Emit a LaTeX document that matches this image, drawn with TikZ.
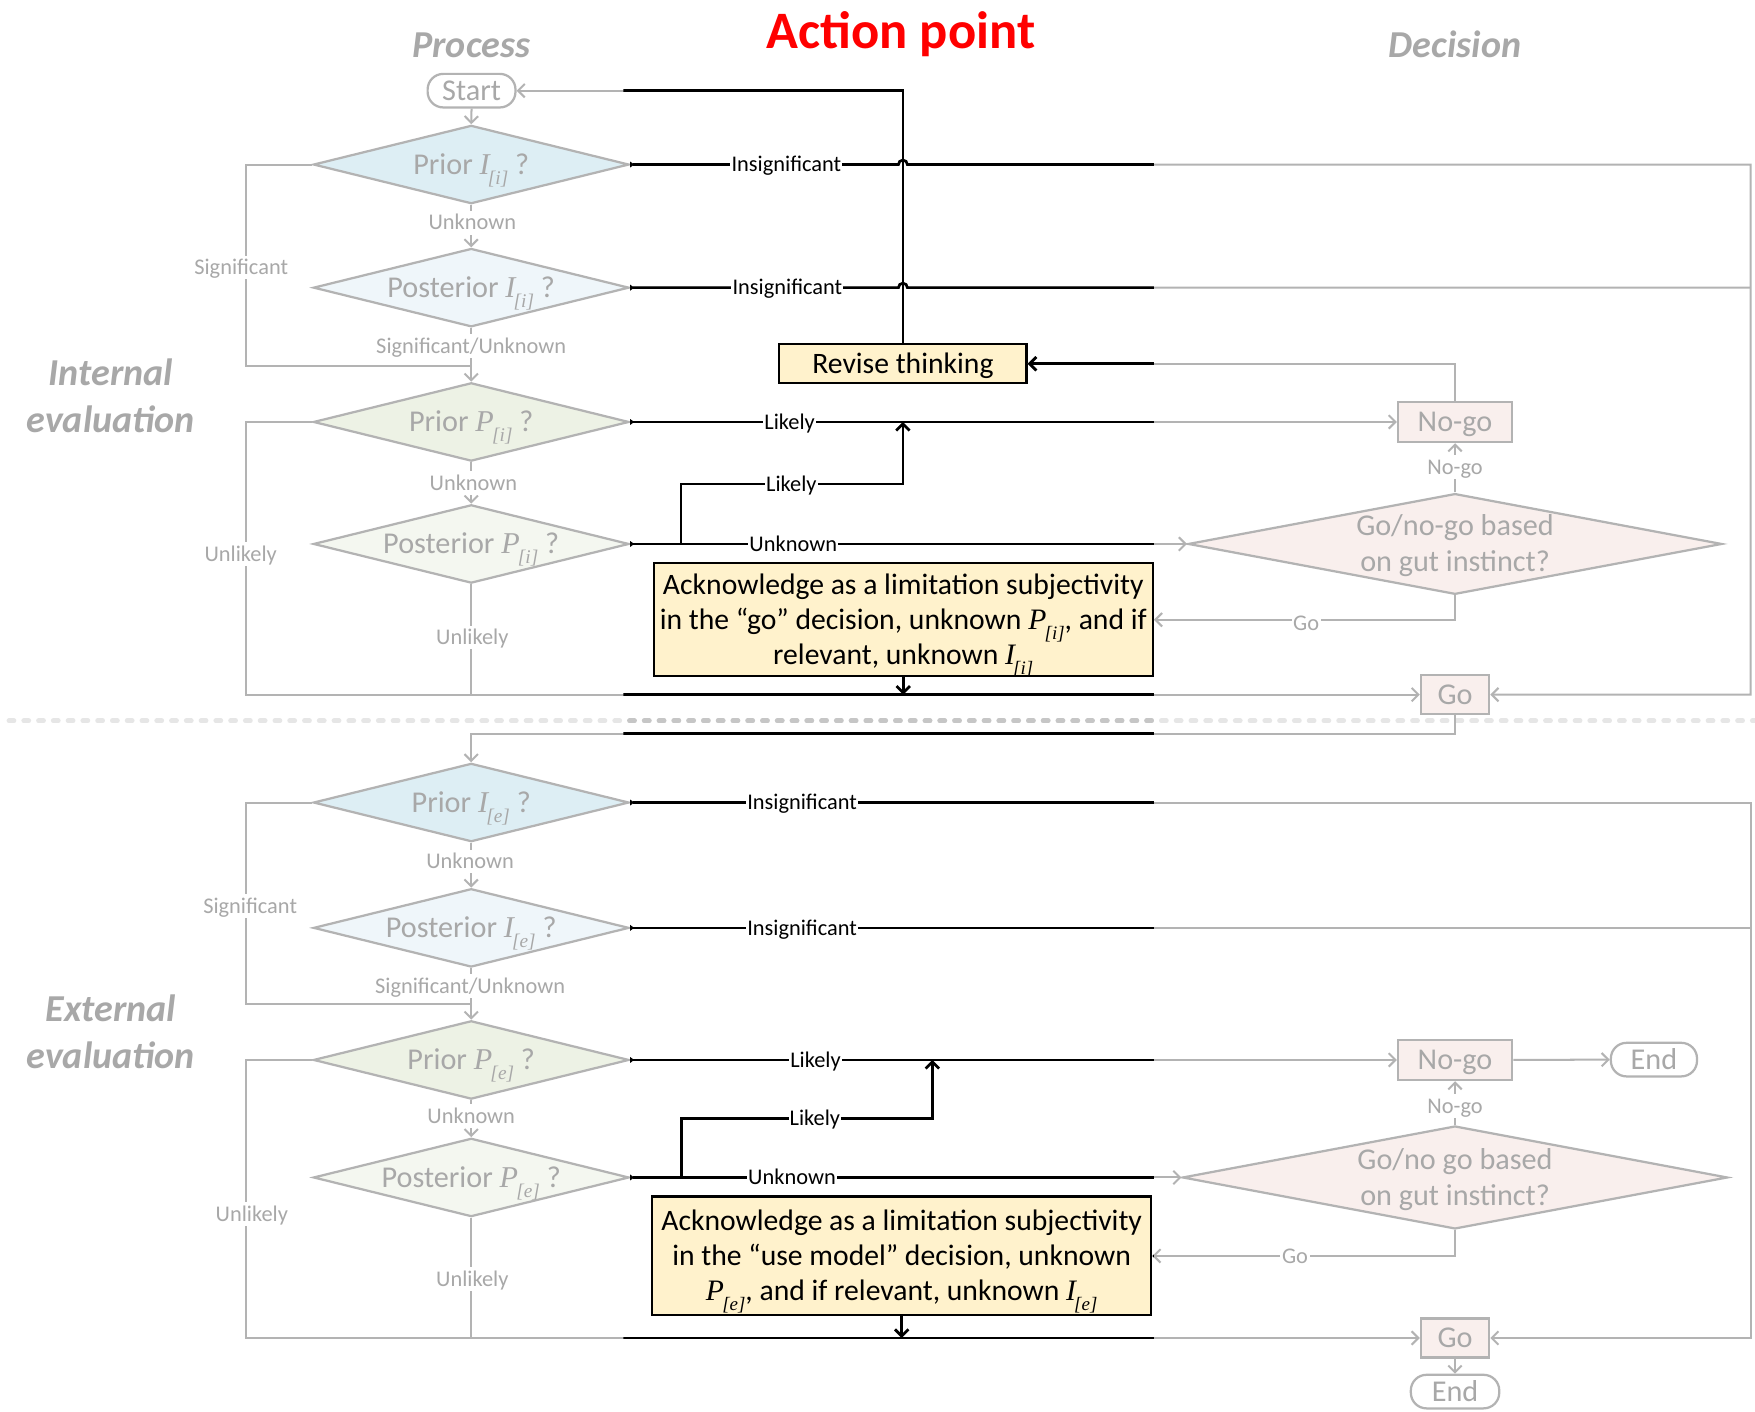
\documentclass[tikz,border=0pt]{standalone}
\usepackage{fontspec}
\setmainfont{Carlito}
\newfontfamily\varserif{Liberation Serif}
\usetikzlibrary{shapes.geometric,arrows.meta,calc}

\definecolor{linegray}{HTML}{B3B3B3}
\definecolor{textgray}{HTML}{A8A8A8}
\definecolor{impA}{HTML}{DDEEF4}
\definecolor{impB}{HTML}{EFF6FA}
\definecolor{probA}{HTML}{EDF2E5}
\definecolor{probB}{HTML}{F4F7F0}
\definecolor{verdict}{HTML}{F9EFED}
\definecolor{actionfill}{HTML}{FFF2CC}
\definecolor{sepsoft}{HTML}{E6E6E6}
\definecolor{sepmid}{HTML}{C6C6C6}

% italic quantity with a bracketed subscript, e.g. I_[i]
\newcommand\qvar[2]{{\varserif\itshape #1}\kern-0.06em\raisebox{-0.34em}{\scalebox{0.64}{\varserif\itshape [#2]}}}

\tikzset{
  query/.style={diamond, draw=linegray, line width=2pt, inner sep=0pt,
    minimum width=282pt, minimum height=70pt},
  qtext/.style={text=textgray, font=\fontsize{27}{32.5}\selectfont, align=center,
    inner sep=0pt, text height=18.9pt, text depth=1.5pt},
  qtexttwo/.style={qtext, text height=51.4pt},
  verdictbox/.style={draw=linegray, line width=2pt, fill=verdict, inner sep=0pt,
    text=textgray, font=\fontsize{27}{33}\selectfont, text height=18.9pt, text depth=1.5pt},
  terminal/.style={draw=linegray, line width=2pt, fill=white, rounded corners=14pt,
    inner sep=0pt, text=textgray, font=\fontsize{27}{33}\selectfont,
    text height=18.9pt, text depth=1.5pt},
  actionbox/.style={draw=black, line width=2pt, fill=actionfill, inner sep=0pt,
    align=center, font=\fontsize{26.5}{31.5}\selectfont, text height=18.5pt, text depth=1.5pt},
  actionboxthree/.style={actionbox, text height=81.5pt},
  flowlink/.style={draw=linegray, line width=1.8pt},
  tohead/.style={-{Straight Barb[length=6pt,width=12pt]}},
  fromtail/.style={{Triangle[reversed,length=3.5pt,width=5pt]}-},
  bothends/.style={{Triangle[reversed,length=3.5pt,width=5pt]}-{Straight Barb[length=6pt,width=12pt]}},
  actlbl/.style={fill=white, inner xsep=1pt, inner ysep=3pt, text=black,
    font=\fontsize{20}{24}\selectfont, text height=14pt, text depth=1.1pt},
  flowlbl/.style={fill=white, inner xsep=1.5pt, inner ysep=3pt, text=textgray,
    font=\fontsize{20}{24}\selectfont, text height=14pt, text depth=1.1pt},
  heading/.style={text=textgray, font=\fontsize{34}{42}\selectfont\bfseries\itshape,
    align=center, anchor=base},
  sepline/.style={line width=4.2pt, line cap=round, dash pattern=on 4.5pt off 8.7pt},
}

% every connector of the chart; drawn once in grey and once in black
% inside the action-point column
\newcommand\flowlinks{%
  % internal evaluation
  \draw[flowlink,tohead] (start.south) -- (ii1.north);
  \draw[flowlink,tohead] (ii1.south) -- (ii2.north);
  \draw[flowlink,tohead] (ii2.south) -- (ip1.north);
  \draw[flowlink] (ii1.west) -- (westrail |- ii1.west) |- (joinI);
  \draw[flowlink,tohead] (ip1.south) -- (ip2.north);
  \draw[flowlink,tohead] (ip1.west) -- (westrail |- ip1.west) |- (go1.west);
  \draw[flowlink] (ip2.south) -- (ip2.south |- go1.west);
  \draw[flowlink,bothends] (ii1.east)
    -- ($(revise.north |- ii1.east)+(-4,0)$) arc[start angle=180,end angle=0,radius=4pt]
    -- (eastrail |- ii1.east) |- (go1.east);
  \draw[flowlink,fromtail] (ii2.east)
    -- ($(revise.north |- ii2.east)+(-4,0)$) arc[start angle=180,end angle=0,radius=4pt]
    -- (eastrail |- ii2.east);
  \draw[flowlink,bothends] (ip1.east) -- (nogo1.west);
  \draw[flowlink,bothends] (ip2.east) -- (gut1.west);
  \draw[flowlink,tohead] (forkI) -- ++(0,-53.6) -| (revise.south |- ip1.east);
  \draw[flowlink,tohead] (gut1.north) -- (nogo1.south);
  \draw[flowlink,tohead] (gut1.south) |- (ack1.east);
  \draw[flowlink,tohead] (nogo1.north) |- (revise.east);
  \draw[flowlink,tohead] (revise.north) |- (start.east);
  \draw[flowlink,tohead] (ack1.south) -- (ack1.south |- go1.west);
  \draw[flowlink,tohead] (go1.south) -- ++(0,16.5) -| (ei1.north);
  % external evaluation
  \draw[flowlink,tohead] (ei1.south) -- (ei2.north);
  \draw[flowlink,tohead] (ei2.south) -- (ep1.north);
  \draw[flowlink] (ei1.west) -- (westrail |- ei1.west) |- (joinE);
  \draw[flowlink,tohead] (ep1.south) -- (ep2.north);
  \draw[flowlink,tohead] (ep1.west) -- (westrail |- ep1.west) |- (go2.west);
  \draw[flowlink] (ep2.south) -- (ep2.south |- go2.west);
  \draw[flowlink,bothends] (ei1.east) -- (eastrail |- ei1.east) |- (go2.east);
  \draw[flowlink,fromtail] (ei2.east) -- (eastrail |- ei2.east);
  \draw[flowlink,bothends] (ep1.east) -- (nogo2.west);
  \draw[flowlink,bothends] (ep2.east) -- (gut2.west);
  \draw[flowlink,tohead] (forkE) -- ++(0,-53) -| (riseE);
  \draw[flowlink,tohead] (gut2.north) -- (nogo2.south);
  \draw[flowlink,tohead] (gut2.south) |- (ack2.east);
  \draw[flowlink,tohead] (ack2.south) -- (ack2.south |- go2.west);
  \draw[flowlink,tohead] (nogo2.east) -- (end1.west);
  \draw[flowlink,tohead] (go2.south) -- (end2.north);
}

\begin{document}
\begin{tikzpicture}[x=1pt,y=-1pt]
\fill[white] (0,0) rectangle (1568,1261);
\useasboundingbox (0,0) rectangle (1568,1261);

% dotted divider between the two evaluation stages
\draw[sepline, draw=sepsoft] (8,644) -- (1568,644);
\begin{scope}
  \clip (557,600) rectangle (1031,690);
  \draw[sepline, draw=sepmid] (8,644) -- (1568,644);
\end{scope}

% column and row headings (base = last line)
\node[heading] (hproc) at (421,51) {Process};
\node[anchor=base, text=red, font=\fontsize{47}{50}\selectfont\bfseries] (hact) at (805,43.5) {Action point};
\node[heading] (hdec) at (1300,51) {Decision};
\node[heading] (hint) at (99,386) {Internal\\evaluation};
\node[heading] (hext) at (99,955) {External\\evaluation};

% process column
\node[terminal, minimum width=78.5pt, minimum height=30pt] (start) at (421.3,81) {Start};
\node[query, fill=impA] (ii1) at (421,147) {};
\node[query, fill=impB] (ii2) at (421,257) {};
\node[query, fill=probA] (ip1) at (421,377) {};
\node[query, fill=probB] (ip2) at (421,486) {};
\node[query, fill=impA] (ei1) at (421,717) {};
\node[query, fill=impB] (ei2) at (421,829) {};
\node[query, fill=probA] (ep1) at (421,947) {};
\node[query, fill=probB] (ep2) at (421,1052) {};
\node[qtext] (ii1t) at (ii1) {Prior \qvar{I}{i} ?};
\node[qtext] (ii2t) at (ii2) {Posterior \qvar{I}{i} ?};
\node[qtext] (ip1t) at (ip1) {Prior \qvar{P}{i} ?};
\node[qtext] (ip2t) at (ip2) {Posterior \qvar{P}{i} ?};
\node[qtext] (ei1t) at (ei1) {Prior \qvar{I}{e} ?};
\node[qtext] (ei2t) at (ei2) {Posterior \qvar{I}{e} ?};
\node[qtext] (ep1t) at (ep1) {Prior \qvar{P}{e} ?};
\node[qtext] (ep2t) at (ep2) {Posterior \qvar{P}{e} ?};

% action-point column
\node[actionbox, minimum width=221pt, minimum height=35pt] (revise) at (806.7,325) {Revise thinking};
\node[actionboxthree, minimum width=446pt, minimum height=101pt] (ack1) at (807,553.7)
  {Acknowledge as a limitation subjectivity\\in the “go” decision, unknown \qvar{P}{i}, and if\\relevant, unknown \qvar{I}{i}};
\node[actionboxthree, minimum width=446pt, minimum height=106pt] (ack2) at (805.6,1122.1)
  {Acknowledge as a limitation subjectivity\\in the “use model” decision, unknown\\\qvar{P}{e}, and if relevant, unknown \qvar{I}{e}};

% decision column
\node[verdictbox, minimum width=102pt, minimum height=36pt] (nogo1) at (1300,377) {No-go};
\node[query, fill=verdict, minimum width=477pt, minimum height=90pt] (gut1) at (1300,486) {};
\node[qtexttwo] (gut1t) at (gut1) {Go/no-go based\\on gut instinct?};
\node[verdictbox, minimum width=61pt, minimum height=35pt] (go1) at (1300,620.6) {Go};
\node[verdictbox, minimum width=102pt, minimum height=36pt] (nogo2) at (1300,947) {No-go};
\node[terminal, minimum width=77pt, minimum height=30pt] (end1) at (1477.7,946.7) {End};
\node[query, fill=verdict, minimum width=487pt, minimum height=92pt] (gut2) at (1300,1052) {};
\node[qtexttwo] (gut2t) at (gut2) {Go/no go based\\on gut instinct?};
\node[verdictbox, minimum width=61pt, minimum height=35pt] (go2) at (1300,1195.4) {Go};
\node[terminal, minimum width=79pt, minimum height=30pt] (end2) at (1300,1243.3) {End};

% routing points
\coordinate (westrail) at (220,0);
\coordinate (eastrail) at (1564,0);
\coordinate (joinI) at (421,327);
\coordinate (joinE) at (421,897);
\coordinate (forkI) at (608.5,486);
\coordinate (forkE) at (609,1052);
\coordinate (riseE) at (833,947);

% connectors: grey everywhere, black through the action-point column
\flowlinks
\begin{scope}
  \clip (557,0) rectangle (1031,1261);
  \tikzset{flowlink/.style={draw=black, line width=2.4pt}}
  \flowlinks
\end{scope}

% connector labels in the action-point column
\node[actlbl] (l1) at (702.6,147) {Insignificant};
\node[actlbl] (l2) at (703.5,257) {Insignificant};
\node[actlbl] (l3) at (705.5,377) {Likely};
\node[actlbl] (l4) at (707,432.4) {Likely};
\node[actlbl] (l5) at (708.7,486) {Unknown};
\node[actlbl] (l6) at (716.6,717) {Insignificant};
\node[actlbl] (l7) at (716.6,829) {Insignificant};
\node[actlbl] (l8) at (728.6,947) {Likely};
\node[actlbl] (l9) at (728,999) {Likely};
\node[actlbl] (l10) at (707.6,1052) {Unknown};

% connector labels in the process and decision columns
\node[flowlbl] (g1) at (422,199) {Unknown};
\node[flowlbl] (g2) at (215.5,239) {Significant};
\node[flowlbl] (g3) at (421,309) {Significant/Unknown};
\node[flowlbl] (g4) at (423,431.8) {Unknown};
\node[flowlbl] (g5) at (215,495) {Unlikely};
\node[flowlbl] (g6) at (422,569.5) {Unlikely};
\node[flowlbl] (g7) at (1300,417.5) {No-go};
\node[flowlbl] (g8) at (1167,557) {Go};
\node[flowlbl] (g9) at (420,769.8) {Unknown};
\node[flowlbl] (g10) at (223.5,809.3) {Significant};
\node[flowlbl] (g11) at (420,880.8) {Significant/Unknown};
\node[flowlbl] (g12) at (421,997.3) {Unknown};
\node[flowlbl] (g13) at (225,1084.5) {Unlikely};
\node[flowlbl] (g14) at (422,1142.8) {Unlikely};
\node[flowlbl] (g15) at (1300,988) {No-go};
\node[flowlbl] (g16) at (1157,1122) {Go};
\end{tikzpicture}
\end{document}
